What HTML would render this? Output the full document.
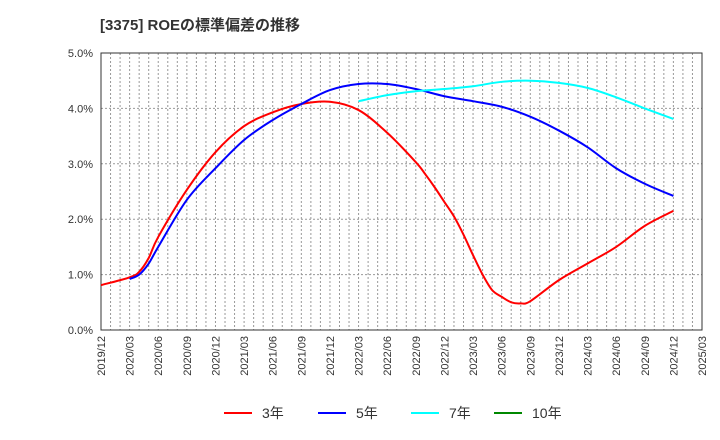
<!DOCTYPE html>
<html><head><meta charset="utf-8"><style>
body{margin:0;background:#fff;font-family:"Liberation Sans","Noto Sans CJK JP",sans-serif}
</style></head><body>
<svg id="c" width="720" height="440" xmlns="http://www.w3.org/2000/svg" style="display:block;font-family:'Liberation Sans','Noto Sans CJK JP',sans-serif">
<text x="100" y="30" font-size="15" font-weight="bold" fill="#333">[3375]  ROEの標準偏差の推移</text>
</svg>
<script>
const yTicks=[0,1,2,3,4,5];
const yTickLabels=["0.0%","1.0%","2.0%","3.0%","4.0%","5.0%"];
const xTickLabels=["2019/12","2020/03","2020/06","2020/09","2020/12","2021/03","2021/06","2021/09","2021/12","2022/03","2022/06","2022/09","2022/12","2023/03","2023/06","2023/09","2023/12","2024/03","2024/06","2024/09","2024/12","2025/03"];
// month index from 2019/12
const red3Months=[0,3,4,5,6,9,12,15,18,21,24,27,30,33,34,35,36,37,38,39,40,41,42,43,44,45,48,51,54,57,60];
const red3Values=[0.81,0.95,1.05,1.3,1.68,2.53,3.21,3.68,3.93,4.08,4.12,3.97,3.56,3.03,2.81,2.57,2.31,2.05,1.72,1.35,1.0,0.72,0.6,0.5,0.48,0.52,0.9,1.2,1.5,1.88,2.15];
const blue5Months=[3,4,5,6,9,12,15,18,21,24,27,30,33,36,39,42,45,48,51,54,57,60];
const blue5Values=[0.92,1.0,1.2,1.5,2.35,2.92,3.43,3.79,4.08,4.33,4.44,4.44,4.35,4.22,4.13,4.03,3.85,3.6,3.3,2.92,2.64,2.42];
const cyan7Months=[27,30,33,36,39,42,45,48,51,54,57,60];
const cyan7Values=[4.13,4.24,4.31,4.35,4.4,4.48,4.5,4.46,4.37,4.2,4.0,3.81];
const NS="http://www.w3.org/2000/svg",svg=document.getElementById('c');
const L=101,R=702,T=53,B=330,NM=63;
const xs=m=>L+(R-L)*m/NM, ys=v=>B-(B-T)*v/5;
function mk(t,a,p){const e=document.createElementNS(NS,t);for(const k in a)e.setAttribute(k,a[k]);(p||svg).appendChild(e);return e;}
for(let m=1;m<NM;m++){const g=mk('line',{x1:xs(m),x2:xs(m),y1:T,y2:B,stroke:'#999','stroke-dasharray':'2,2','stroke-width':1});

}
yTicks.forEach((v,i)=>{if(v>0&&v<5){const g=mk('line',{x1:L,x2:R,y1:ys(v),y2:ys(v),stroke:'#999','stroke-dasharray':'2,2'});

}
const t=mk('text',{x:L-8,y:ys(v)+4,'text-anchor':'end','font-size':11,fill:'#333'});t.textContent=yTickLabels[i];

});
const fr=mk('rect',{x:L,y:T,width:R-L,height:B-T,fill:'none',stroke:'#333','stroke-width':1});


xTickLabels.forEach((s,i)=>{const x=xs(i*3);const t=mk('text',{x:x+4,y:B+6,'text-anchor':'end','font-size':11,fill:'#333',transform:`rotate(-90 ${x+4} ${B+6})`});t.textContent=s;

});
function path(ms,vs){const p=ms.map((m,i)=>[xs(m),ys(vs[i])]);let d=`M${p[0][0]},${p[0][1]}`;
for(let i=0;i<p.length-1;i++){const p0=p[i-1]||p[i],p1=p[i],p2=p[i+1],p3=p[i+2]||p2;
d+=` C${p1[0]+(p2[0]-p0[0])/6},${p1[1]+(p2[1]-p0[1])/6} ${p2[0]-(p3[0]-p1[0])/6},${p2[1]-(p3[1]-p1[1])/6} ${p2[0]},${p2[1]}`;}return d;}
[[red3Months,red3Values,'#f00','line-3yr'],[blue5Months,blue5Values,'#00f','line-5yr'],[cyan7Months,cyan7Values,'#0ff','line-7yr']].forEach(s=>{
const e=mk('path',{d:path(s[0],s[1]),fill:'none',stroke:s[2],'stroke-width':2});

});
[['3年','#f00',224],['5年','#00f',318],['7年','#0ff',411],['10年','#080',494]].forEach(l=>{
const g=mk('g',{});


mk('line',{x1:l[2],x2:l[2]+28,y1:413,y2:413,stroke:l[1],'stroke-width':2},g);
const t=mk('text',{x:l[2]+38,y:418,'font-size':14,fill:'#333'},g);t.textContent=l[0];});
</script>
</body></html>
